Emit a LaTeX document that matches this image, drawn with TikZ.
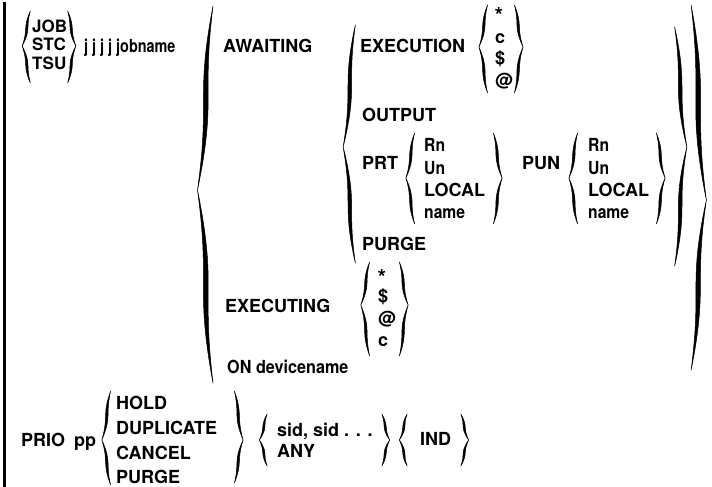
\documentclass[tikz,border=0pt]{standalone}
\usepackage{graphicx}
\usepackage{fontspec}
\setmainfont{TeX Gyre Heros}
\newcommand{\lcx}[2][0.87]{\scalebox{#1}[1]{#2}}
\newcommand{\brc}[5]{%
 \pgfmathsetmacro\bX{#1}%
 \pgfmathsetmacro\bT{#2}%
 \pgfmathsetmacro\bM{#3}%
 \pgfmathsetmacro\bB{#4}%
 \pgfmathsetmacro\bD{#5}%
 \pgfmathsetmacro\hU{\bM-\bT}%
 \pgfmathsetmacro\hL{\bB-\bM}%
 \pgfmathsetmacro\aU{2+0.03*\hU}%
 \pgfmathsetmacro\aL{2+0.03*\hL}%
 \pgfmathsetmacro\tU{1.1+0.011*\hU}%
 \pgfmathsetmacro\tL{1.1+0.011*\hL}%
 \pgfmathsetmacro\bE{2.5+0.012*(\hU+\hL)}%
 \pgfmathsetmacro\bP{4+0.012*(\hU+\hL)}%
 \filldraw[brc] ({\bX-\bD*\bE},{\bT}) .. controls ({\bX+\bD*\aU+\tU},{\bT+0.5*\hU}) and ({\bX-\bD*\aU+\tU},{\bM-0.5*\hU}) .. ({\bX+\bD*\bP},{\bM})
   .. controls ({\bX-\bD*\aU-\tU},{\bM-0.5*\hU}) and ({\bX+\bD*\aU-\tU},{\bT+0.5*\hU}) .. cycle;
 \filldraw[brc] ({\bX+\bD*\bP},{\bM}) .. controls ({\bX-\bD*\aL+\tL},{\bM+0.5*\hL}) and ({\bX+\bD*\aL+\tL},{\bB-0.5*\hL}) .. ({\bX-\bD*\bE},{\bB})
   .. controls ({\bX+\bD*\aL-\tL},{\bB-0.5*\hL}) and ({\bX-\bD*\aL-\tL},{\bM+0.5*\hL}) .. cycle;
}
\begin{document}
\begin{tikzpicture}[x=1pt,y=-1pt,
  brc/.style={fill=black,draw=black,line width=0.5pt,line join=round},
  txt/.style={anchor=base west,inner sep=0pt,font=\fontsize{18}{20}\selectfont\bfseries},
  stxt/.style={txt,font=\fontsize{17}{19}\selectfont\bfseries},
  ast/.style={txt,font=\fontsize{22}{24}\selectfont\bfseries}]
\useasboundingbox (0,0) rectangle (712,487);
\draw[line width=3.5pt] (4.5,2) -- (4.5,487);
% JOB group
\node[stxt] (job) at (32,32.5) {JOB};
\node[stxt] (stc) at (32,51) {STC};
\node[stxt] (tsu) at (32,69.5) {TSU};
\brc{27}{11}{46}{83}{-1}
\brc{71}{11}{46}{83}{1}
\node[txt] (jobname) at (84,52.5) {\lcx[0.8]{j j j j jobname}};
% big left brace
\brc{206}{6}{190}{383}{-1}
\node[txt] (awaiting) at (223,52.5) {AWAITING};
% inner left brace
\brc{350}{25}{147}{263}{-1}
\node[txt] (execution) at (360,52.5) {EXECUTION};
\brc{484}{5}{47}{93}{-1}
\node[ast] (e1) at (494.5,24) {*};
\node[txt] (e2) at (495,43.5) {c};
\node[txt] (e3) at (495,64.5) {\$};
\node[txt] (e4) at (495,86.5) {@};
\brc{518}{5}{47}{93}{1}
\node[txt] (output) at (362,121.5) {OUTPUT};
\node[txt] (prt) at (362,169.5) {PRT};
\brc{411}{133}{178}{224}{-1}
\node[txt] (p1) at (424,151.5) {\lcx{Rn}};
\node[txt] (p2) at (424,174.5) {\lcx{Un}};
\node[txt] (p3) at (424,196.5) {LOCAL};
\node[txt] (p4) at (424,218.5) {\lcx{name}};
\brc{497}{133}{178}{224}{1}
\node[txt] (pun) at (522,169.5) {PUN};
\brc{574}{133}{178}{224}{-1}
\node[txt] (q1) at (588,151.5) {\lcx{Rn}};
\node[txt] (q2) at (588,174.5) {\lcx{Un}};
\node[txt] (q3) at (588,196.5) {LOCAL};
\node[txt] (q4) at (588,218.5) {\lcx{name}};
\brc{660}{133}{178}{224}{1}
\node[txt] (purge) at (362,250.5) {PURGE};
\brc{680}{27}{147}{266}{1}
\brc{698}{5}{200}{370}{1}
% executing
\node[txt] (executing) at (225,312.5) {EXECUTING};
\brc{366}{262}{305}{356}{-1}
\node[ast] (x1) at (377.5,285) {*};
\node[txt] (x2) at (378,302.5) {\$};
\node[txt] (x3) at (378,324.5) {@};
\node[txt] (x4) at (378,346.5) {c};
\brc{403}{262}{305}{356}{1}
\node[txt] (on) at (227,373.5) {\lcx[0.9]{ON devicename}};
% bottom row
\node[txt] (prio) at (21,446.5) {PRIO\enspace pp};
\brc{107}{391}{440}{485}{-1}
\node[txt] (hold) at (116,409.5) {HOLD};
\node[txt] (dup) at (116,434.5) {DUPLICATE};
\node[txt] (cancel) at (116,459.5) {CANCEL};
\node[txt] (purge2) at (116,483) {PURGE};
\brc{238}{391}{440}{483}{1}
\brc{264}{414}{440}{466}{-1}
\node[txt] (sid) at (277,436.5) {sid, sid . . .};
\node[txt] (any) at (277,457.5) {ANY};
\brc{385}{414}{440}{466}{1}
\brc{404}{414}{440}{466}{-1}
\node[txt] (ind) at (420,445) {IND};
\brc{464}{414}{440}{466}{1}
\end{tikzpicture}
\end{document}
